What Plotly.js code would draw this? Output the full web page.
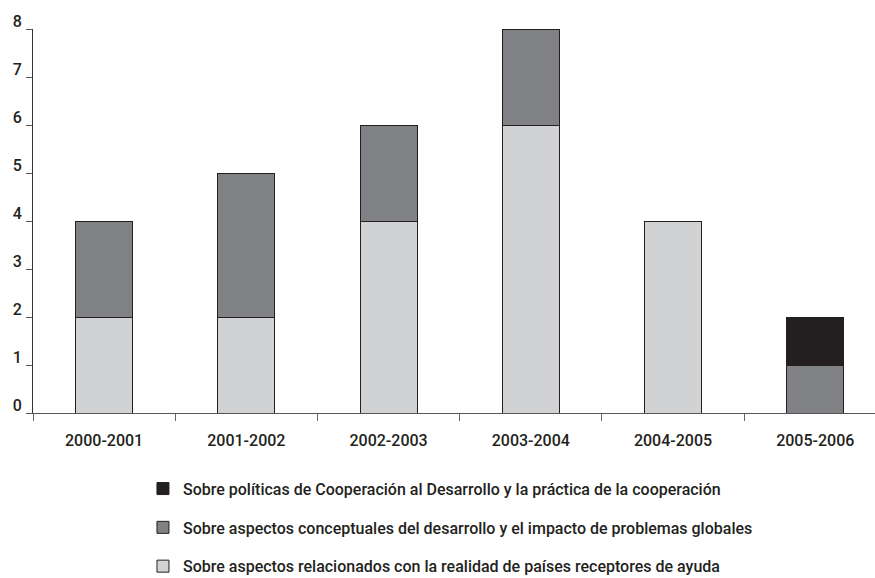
<!DOCTYPE html>
<html>
<head>
<meta charset="utf-8">
<script src="https://cdn.plot.ly/plotly-3.0.1.min.js"></script>
<style>html,body{margin:0;padding:0;background:#fff;}#chart{width:875px;height:578px;}</style>
</head>
<body>
<div id="chart"></div>
<script>
const categories = ["2000-2001", "2001-2002", "2002-2003", "2003-2004", "2004-2005", "2005-2006"];
const seriesNames = [
  "Sobre aspectos relacionados con la realidad de países receptores de ayuda",
  "Sobre aspectos conceptuales del desarrollo y el impacto de problemas globales",
  "Sobre políticas de Cooperación al Desarrollo y la práctica de la cooperación"
];
const realidadPaises = [2, 2, 4, 6, 4, 0];
const aspectosConceptuales = [2, 3, 2, 2, 0, 1];
const politicasCooperacion = [0, 0, 0, 0, 0, 1];
const yTicks = [0, 1, 2, 3, 4, 5, 6, 7, 8];

const colors = ["#d1d2d4", "#808184", "#231f20"];
const values = [realidadPaises, aspectosConceptuales, politicasCooperacion];
const txt = "#231f20";
const font = {family: "Roboto, 'Open Sans', sans-serif", size: 16, color: txt, weight: 500};

const traces = values.map((v, i) => ({
  type: "bar",
  x: categories,
  y: v,
  name: seriesNames[i],
  legendgroup: "g" + i,
  legendrank: 3 - i,
  marker: {color: colors[i], line: {color: "#231f20", width: 1}},
  hoverinfo: "x+y+name"
}));

const layout = {
  width: 875, height: 578,
  margin: {l: 33, r: 0, t: 29, b: 165},
  paper_bgcolor: "#fff", plot_bgcolor: "#fff",
  barmode: "stack",
  bargap: 0.6,
  font: font,
  showlegend: true,
  legend: {
    x: 0.1306, xanchor: "left", yref: "container", y: 0.184, yanchor: "top",
    traceorder: "grouped", tracegroupgap: 15,
    font: font, bgcolor: "rgba(0,0,0,0)"
  },
  xaxis: {
    type: "category",
    range: [-0.5, 5.42],
    showline: true, linecolor: "#555", linewidth: 1,
    ticks: "outside", tickson: "boundaries", ticklen: 7, tickcolor: "#666", tickwidth: 1,
    ticklabelstandoff: 13,
    showgrid: false, zeroline: false,
    tickfont: font
  },
  yaxis: {
    range: [0, 8],
    tickvals: yTicks,
    ticktext: yTicks.map(String),
    showline: true, linecolor: "#333", linewidth: 1,
    ticks: "outside", ticklen: 6, tickcolor: "#555", tickwidth: 1,
    ticklabelshift: -8, ticklabelstandoff: 1,
    showgrid: false, zeroline: false,
    tickfont: font
  }
};

Plotly.newPlot("chart", traces, layout, {displayModeBar: false, staticPlot: true});
</script>
</body>
</html>
